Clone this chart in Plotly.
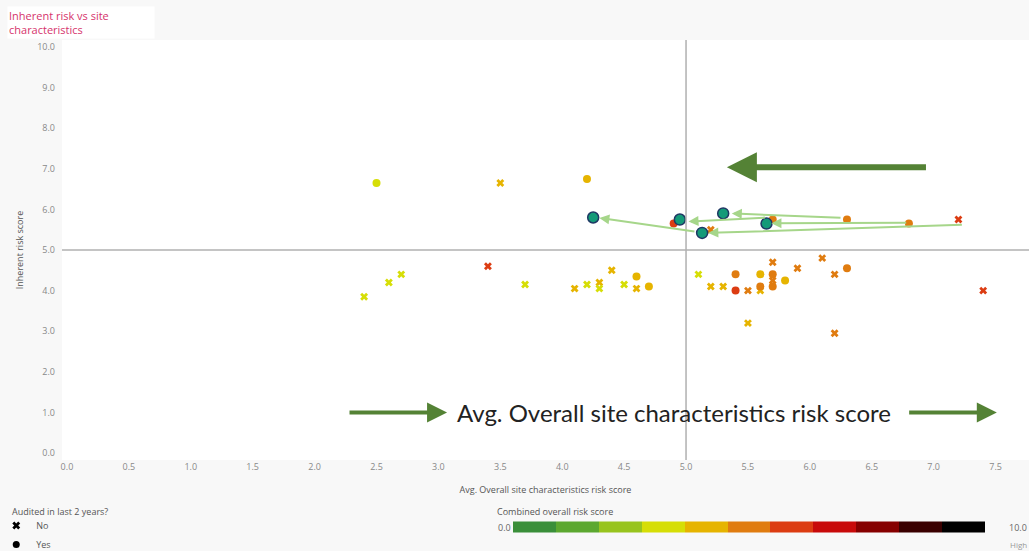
import plotly.graph_objects as go

# ---- data ----
no_x = [2.4, 2.6, 2.7, 3.4, 3.5, 3.7, 4.1, 4.2, 4.3, 4.3, 4.4, 4.5, 4.6, 5.1, 5.2, 5.3, 5.5, 5.5,
        5.6, 5.7, 5.7, 5.9, 6.1, 6.2, 6.2, 7.4, 5.2, 7.2]
no_y = [3.85, 4.2, 4.4, 4.6, 6.65, 4.15, 4.05, 4.15, 4.2, 4.05, 4.5, 4.15, 4.05, 4.4, 4.1, 4.1, 4.0, 3.2,
        4.0, 4.7, 4.25, 4.55, 4.8, 4.4, 2.95, 4.0, 5.5, 5.75]
no_risk = [3.2, 3.2, 3.2, 5.9, 3.9, 3.2, 3.9, 3.2, 3.9, 3.5, 4.0, 3.2, 4.0, 3.5, 3.8, 4.2, 5.0, 3.8,
           3.8, 5.0, 5.0, 5.0, 5.0, 5.0, 5.0, 5.9, 5.0, 5.9]

yes_x = [2.5, 4.2, 4.6, 4.7, 5.4, 5.4, 5.6, 5.6, 5.7, 5.7, 5.8, 6.3, 4.9, 5.7, 6.3, 6.8]
yes_y = [6.65, 6.75, 4.35, 4.1, 4.4, 4.0, 4.4, 4.1, 4.4, 4.1, 4.25, 4.55, 5.65, 5.75, 5.75, 5.65]
yes_risk = [3.2, 4.0, 4.0, 4.0, 5.0, 5.9, 3.9, 5.0, 5.0, 5.0, 3.9, 5.0, 5.9, 5.0, 5.0, 5.0]

moved_x = [4.25, 4.95, 5.3, 5.65, 5.13]
moved_y = [5.8, 5.75, 5.9, 5.65, 5.42]

# arrows: tail -> head
arr_from_x = [6.26, 6.79, 7.24, 5.65, 5.08]
arr_from_y = [5.79, 5.67, 5.62, 5.80, 5.45]
arr_to_x = [5.37, 5.69, 5.18, 5.02, 4.30]
arr_to_y = [5.90, 5.66, 5.42, 5.70, 5.79]

x_ticks = [0.0, 0.5, 1.0, 1.5, 2.0, 2.5, 3.0, 3.5, 4.0, 4.5, 5.0, 5.5, 6.0, 6.5, 7.0, 7.5]
y_ticks = [0, 1, 2, 3, 4, 5, 6, 7, 8, 9, 10]

bin_colors = ["#3a8f3a", "#5ca830", "#98c41e", "#d6de06", "#e6b400", "#e07c10",
              "#dc3c12", "#c80a0a", "#860000", "#3a0000", "#000000"]

# discrete colorscale
cs = []
n = len(bin_colors)
for i, c in enumerate(bin_colors):
    cs.append([i / n, c])
    cs.append([(i + 1) / n, c])

fig = go.Figure()

fig.add_trace(go.Scatter(
    x=no_x, y=no_y, mode="markers", showlegend=False, hoverinfo="skip",
    marker=dict(symbol="x", size=7, color=no_risk, colorscale=cs, cmin=0, cmax=10,
                line=dict(width=0), showscale=False)))

fig.add_trace(go.Scatter(
    x=yes_x, y=yes_y, mode="markers", showlegend=False, hoverinfo="skip",
    marker=dict(symbol="circle", size=8, color=yes_risk, colorscale=cs, cmin=0, cmax=10,
                line=dict(width=0), showscale=True,
                colorbar=dict(orientation="h", x=0.466, xanchor="left", y=-0.16, yanchor="middle",
                              len=472, lenmode="pixels", thickness=11, thicknessmode="pixels",
                              outlinewidth=0, showticklabels=False, ticks="", xpad=0, ypad=0))))

# arrows between original and moved positions
for fx, fy, tx, ty in zip(arr_from_x, arr_from_y, arr_to_x, arr_to_y):
    fig.add_annotation(x=tx, y=ty, ax=fx, ay=fy, xref="x", yref="y", axref="x", ayref="y",
                       text="", showarrow=True, arrowhead=2, arrowsize=1, arrowwidth=2,
                       arrowcolor="#a6d68a", standoff=0, startstandoff=0)

fig.add_trace(go.Scatter(
    x=moved_x, y=moved_y, mode="markers", showlegend=False, hoverinfo="skip",
    marker=dict(symbol="circle", size=11, color="#149a78", line=dict(width=1.5, color="#1f3864"))))

# legend entries
fig.add_trace(go.Scatter(x=[None], y=[None], mode="markers", name="No",
                         marker=dict(symbol="x", size=7, color="black")))
fig.add_trace(go.Scatter(x=[None], y=[None], mode="markers", name="Yes",
                         marker=dict(symbol="circle", size=7, color="black")))

fig.add_vline(x=5.0, line=dict(color="#b0b0b0", width=1.5))
fig.add_hline(y=5.0, line=dict(color="#b0b0b0", width=1.5))

# big green arrows + label
fig.add_annotation(x=5.33, y=7.04, ax=6.95, ay=7.04, xref="x", yref="y", axref="x", ayref="y",
                   text="", showarrow=True, arrowhead=2, arrowsize=1, arrowwidth=6,
                   arrowcolor="#548235", standoff=0)
fig.add_annotation(x=3.07, y=1.0, ax=2.27, ay=1.0, xref="x", yref="y", axref="x", ayref="y",
                   text="", showarrow=True, arrowhead=2, arrowsize=1, arrowwidth=4,
                   arrowcolor="#548235", standoff=0)
fig.add_annotation(x=7.51, y=1.0, ax=6.79, ay=1.0, xref="x", yref="y", axref="x", ayref="y",
                   text="", showarrow=True, arrowhead=2, arrowsize=1, arrowwidth=4,
                   arrowcolor="#548235", standoff=0)
fig.add_annotation(x=4.9, y=1.0, xref="x", yref="y", showarrow=False,
                   text="Avg. Overall site characteristics risk score",
                   font=dict(size=24, family="Lato", color="#222"))

# title
fig.add_annotation(x=-0.057, y=1.08, xref="paper", yref="paper", xanchor="left", yanchor="top",
                   showarrow=False, align="left", bgcolor="white", width=144,
                   text="Inherent risk vs site<br>characteristics",
                   font=dict(size=11, family="Open Sans", color="#d6336c"))

# legend title
fig.add_annotation(x=-0.0538, y=(460 - 511) / 420, xref="paper", yref="paper", xanchor="left",
                   yanchor="middle", showarrow=False, text="Audited in last 2 years?",
                   font=dict(size=9, color="#555", family="Open Sans"))

# colorbar title + end labels
fig.add_annotation(x=0.448, y=-0.143, xref="paper", yref="paper", xanchor="left", yanchor="bottom",
                   showarrow=False, text="Combined overall risk score",
                   font=dict(size=9, color="#555", family="Open Sans"))
fig.add_annotation(x=0.466, y=-0.16, xref="paper", yref="paper", xanchor="right", yanchor="middle",
                   showarrow=False, text="0.0", font=dict(size=9, color="#666", family="Open Sans"))
fig.add_annotation(x=1.0, y=-0.16, xref="paper", yref="paper", xanchor="right", yanchor="middle",
                   showarrow=False, text="10.0", font=dict(size=9, color="#666", family="Open Sans"))
fig.add_annotation(x=1.0, y=-0.2, xref="paper", yref="paper", xanchor="right", yanchor="middle",
                   showarrow=False, text="High", font=dict(size=8, color="#999", family="Open Sans"))

fig.update_xaxes(range=[-0.04, 7.77], tickvals=x_ticks, tickformat=".1f", showgrid=False,
                 zeroline=False, showline=False, ticks="",
                 tickfont=dict(size=9, color="#888", family="Open Sans"),
                 title=dict(text="Avg. Overall site characteristics risk score", standoff=14,
                            font=dict(size=9, color="#555", family="Open Sans")))
fig.update_yaxes(range=[-0.17, 10.17], tickvals=y_ticks, tickformat=".1f", showgrid=False,
                 zeroline=False, showline=False, ticks="", ticklabelstandoff=6,
                 tickfont=dict(size=9, color="#888", family="Open Sans"),
                 title=dict(text="Inherent risk score", standoff=12,
                            font=dict(size=9, color="#555", family="Open Sans")))

fig.update_layout(
    width=1029, height=551,
    margin=dict(l=62, r=0, t=40, b=91, autoexpand=False),
    paper_bgcolor="#f8f8f8", plot_bgcolor="white",
    legend=dict(x=-0.068, y=-0.1215, xanchor="left", yanchor="top",
                font=dict(size=9, color="#555", family="Open Sans"),
                bgcolor="rgba(0,0,0,0)", itemsizing="trace", tracegroupgap=0),
    font=dict(family="Open Sans"),
)

fig.write_html("out.html", config={"displayModeBar": False},
               post_script="document.body.style.margin='0';document.body.style.overflow='hidden';")
